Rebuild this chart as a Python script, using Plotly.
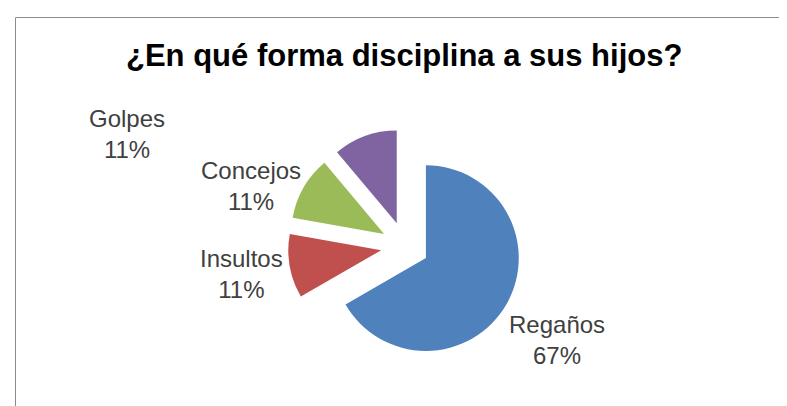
import plotly.graph_objects as go

labels = ["Regaños", "Insultos", "Concejos", "Golpes"]
values = [6, 1, 1, 1]
colors = ["#4F81BD", "#C0504D", "#9BBB59", "#8064A2"]
title_text = "¿En qué forma disciplina a sus hijos?"

W, H = 787, 406
label_pos = {  # label block centers in px (x, y from top)
    "Regaños": (549, 332),
    "Insultos": (233, 266),
    "Concejos": (243, 178),
    "Golpes": (119, 126),
}

total = sum(values)
fig = go.Figure(go.Pie(
    labels=labels, values=values, sort=False, direction="clockwise", rotation=0,
    marker=dict(colors=colors, line=dict(width=0)),
    pull=[0.26] * len(values), textinfo="none", hoverinfo="label+percent",
    showlegend=False,
    domain=dict(x=[280 / W, 514 / W], y=[(H - 355) / H, (H - 121) / H]),
))

for lab, v in zip(labels, values):
    px, py = label_pos[lab]
    fig.add_annotation(x=px / W, y=1 - py / H, xref="paper", yref="paper",
                       text=f"{lab}<br>{round(v / total * 100)}%", showarrow=False,
                       font=dict(family="Liberation Sans", size=24, color="#404040"),
                       xanchor="center", yanchor="middle", align="center")

fig.add_annotation(x=396 / W, y=1 - 48 / H, xref="paper", yref="paper",
                   text=f"<b>{title_text}</b>", showarrow=False,
                   font=dict(family="Liberation Sans", size=31, color="#000000"),
                   xanchor="center", yanchor="middle")

# chart frame (left and top edges)
fig.add_shape(type="line", xref="paper", yref="paper", x0=7.5 / W, x1=7.5 / W, y0=0, y1=1 - 9.5 / H,
              line=dict(color="#8c8c8c", width=1))
fig.add_shape(type="line", xref="paper", yref="paper", x0=7.5 / W, x1=1, y0=1 - 9.5 / H, y1=1 - 9.5 / H,
              line=dict(color="#8c8c8c", width=1))

fig.update_layout(width=W, height=H, margin=dict(l=0, r=0, t=0, b=0),
                  paper_bgcolor="white", plot_bgcolor="white")
fig.write_html("out.html")
